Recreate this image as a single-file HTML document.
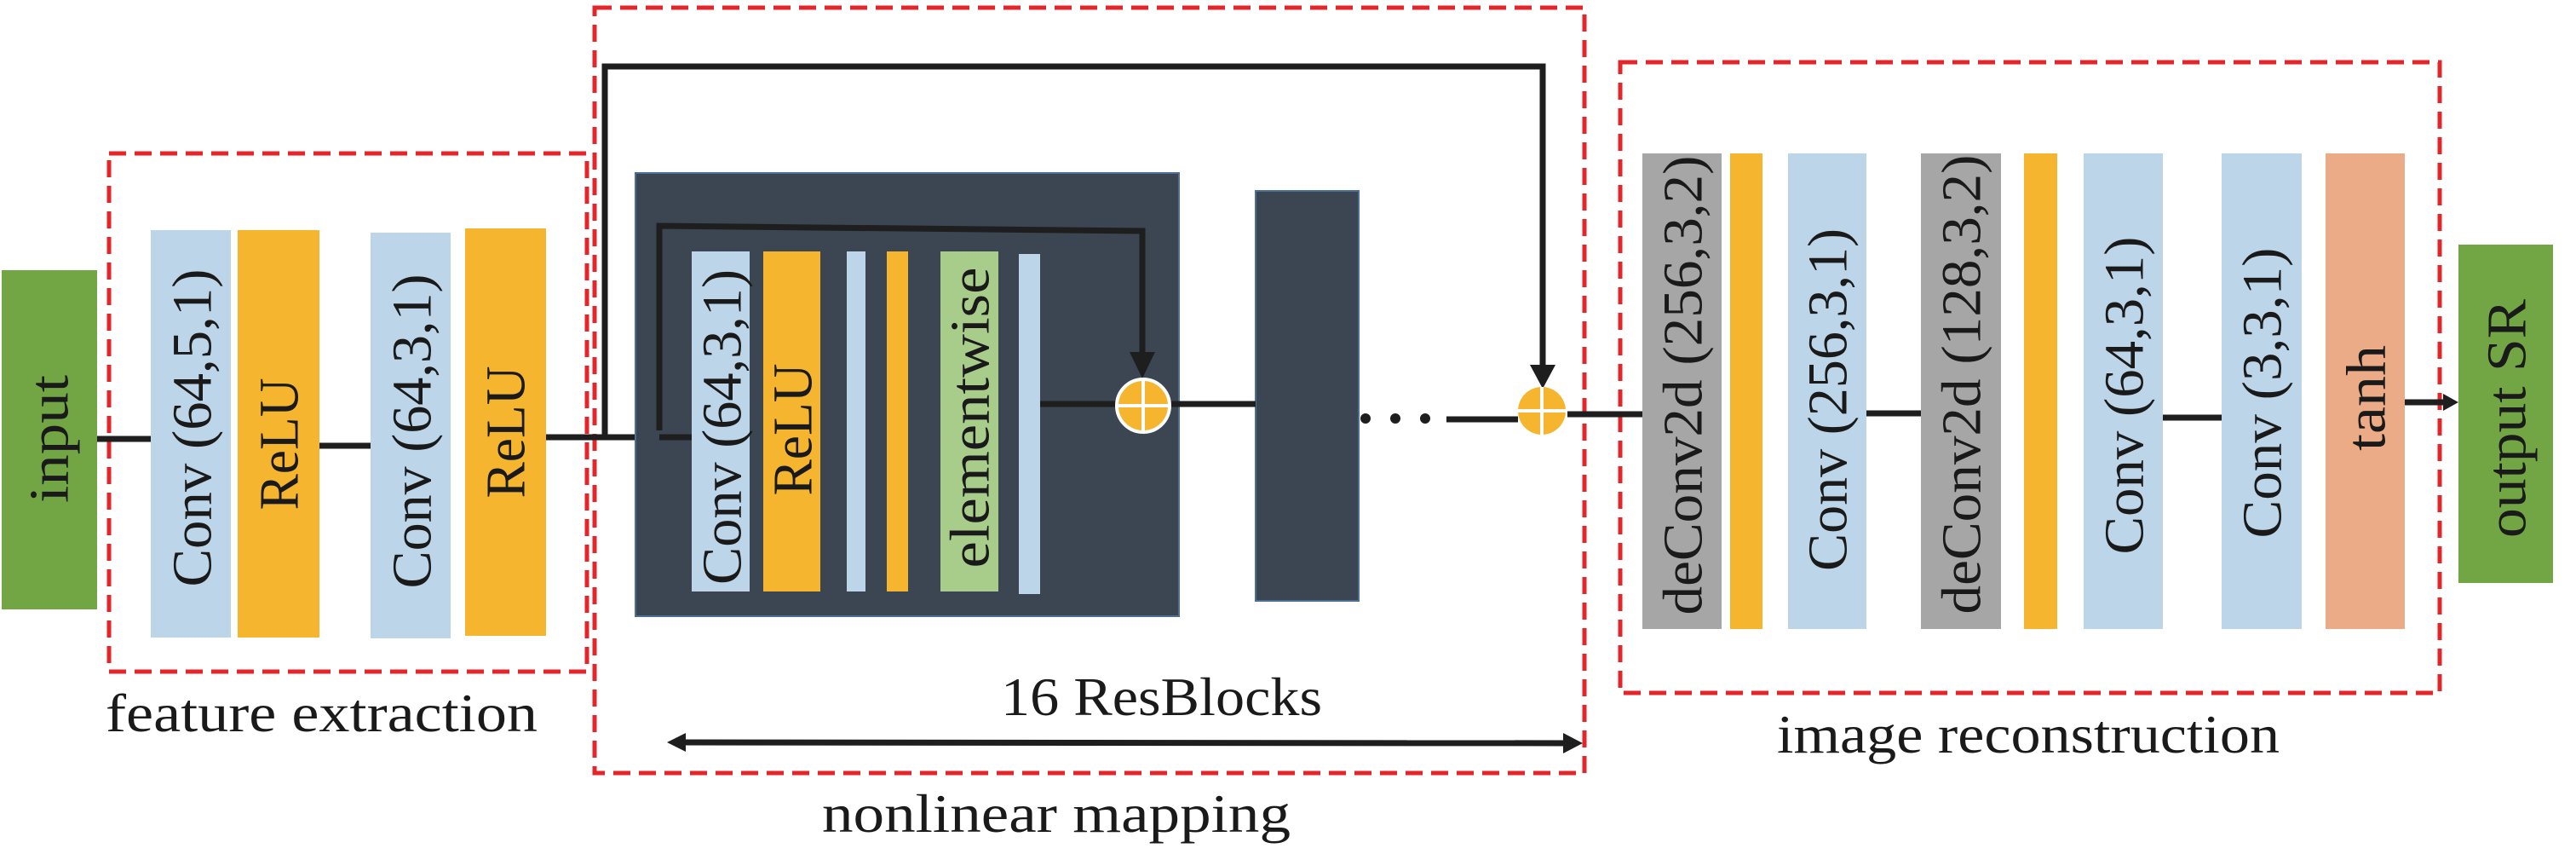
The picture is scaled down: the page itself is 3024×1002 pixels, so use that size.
<!DOCTYPE html>
<html><head><meta charset="utf-8"><style>
html,body{margin:0;padding:0;background:#fff;}
svg{display:block;}
text{font-family:"Liberation Serif",serif;fill:#1a1a1a;}
</style></head><body>
<svg width="3024" height="1002" viewBox="0 0 3024 1002" xmlns="http://www.w3.org/2000/svg">
<g fill="none" stroke="#e4262a" stroke-width="5" stroke-dasharray="20,10">
<rect x="128" y="180" width="561" height="608"/>
<rect x="698" y="9" width="1162" height="898"/>
<rect x="1902" y="73" width="962" height="740"/>
</g>
<rect x="2" y="317" width="112" height="398" fill="#72a644"/>
<rect x="177" y="270" width="94" height="478" fill="#bcd5e8"/>
<rect x="279" y="270" width="96" height="478" fill="#f5b52e"/>
<rect x="435" y="273" width="94" height="476" fill="#bcd5e8"/>
<rect x="546" y="268" width="95" height="478" fill="#f5b52e"/>
<g stroke="#1e1e1e" stroke-width="7" fill="none">
<line x1="114" y1="515" x2="177" y2="515"/>
<line x1="375" y1="523" x2="435" y2="523"/>
<line x1="641" y1="513" x2="799" y2="513"/>
<polyline points="710,513 710,78 1811,78 1811,430"/>
</g>
<rect x="746" y="203" width="638" height="520" fill="#3b4652" stroke="#4d6f93" stroke-width="2"/>
<rect x="1474" y="224" width="121" height="481" fill="#3b4652" stroke="#4d6f93" stroke-width="2"/>
<rect x="812" y="295" width="68" height="399" fill="#bcd5e8"/>
<rect x="896" y="295" width="67" height="399" fill="#f5b52e"/>
<rect x="994" y="295" width="22" height="399" fill="#bcd5e8"/>
<rect x="1041" y="295" width="25" height="399" fill="#f5b52e"/>
<rect x="1104" y="295" width="68" height="399" fill="#a8cd8a"/>
<rect x="1196" y="298" width="25" height="399" fill="#bcd5e8"/>
<g stroke="#1e1e1e" stroke-width="7" fill="none">
<polyline points="774,505 774,265 1341,271 1341,415"/>
<line x1="774" y1="513" x2="812" y2="513"/>
<line x1="1221" y1="474" x2="1311" y2="474"/>
<line x1="1372" y1="474" x2="1474" y2="474"/>
<line x1="1698" y1="492" x2="1782" y2="492"/>
<line x1="1840" y1="486" x2="1928" y2="486"/>
<line x1="2191" y1="485" x2="2255" y2="485"/>
<line x1="2539" y1="490" x2="2608" y2="490"/>
<line x1="2823" y1="472" x2="2870" y2="472"/>
<line x1="790" y1="871" x2="1848" y2="872"/>
</g>
<g fill="#1e1e1e">
<polygon points="1326,413 1356,413 1341,444"/>
<polygon points="1796,428 1826,428 1811,456"/>
<polygon points="2868,462 2868,482 2886,472"/>
<polygon points="783,871 805,860 805,882"/>
<polygon points="1858,872 1835,860 1835,884"/>
<circle cx="1603" cy="491" r="6"/>
<circle cx="1638" cy="491" r="6"/>
<circle cx="1673" cy="491" r="6"/>
</g>
<g>
<circle cx="1342" cy="476" r="31" fill="#f5b52e" stroke="#fff" stroke-width="4"/>
<line x1="1342" y1="447" x2="1342" y2="505" stroke="#fff" stroke-width="4"/>
<line x1="1313" y1="476" x2="1371" y2="476" stroke="#fff" stroke-width="4"/>
<circle cx="1810" cy="482" r="28" fill="#f5b52e"/>
<line x1="1810" y1="454" x2="1810" y2="510" stroke="#fff" stroke-width="4"/>
<line x1="1782" y1="482" x2="1838" y2="482" stroke="#fff" stroke-width="4"/>
</g>
<rect x="1928" y="180" width="93" height="558" fill="#a6a6a6"/>
<rect x="2031" y="180" width="38" height="558" fill="#f5b52e"/>
<rect x="2099" y="180" width="92" height="558" fill="#bcd5e8"/>
<rect x="2255" y="180" width="94" height="558" fill="#a6a6a6"/>
<rect x="2376" y="180" width="39" height="558" fill="#f5b52e"/>
<rect x="2446" y="180" width="93" height="558" fill="#bcd5e8"/>
<rect x="2608" y="180" width="94" height="558" fill="#bcd5e8"/>
<rect x="2730" y="180" width="93" height="558" fill="#ecab87"/>
<rect x="2886" y="287" width="111" height="397" fill="#72a644"/>
<g font-size="66" text-anchor="middle" dominant-baseline="central">
<text transform="translate(58,515) rotate(-90)" textLength="150" lengthAdjust="spacingAndGlyphs">input</text>
<text transform="translate(226,502) rotate(-90)" textLength="373" lengthAdjust="spacingAndGlyphs">Conv (64,5,1)</text>
<text transform="translate(328,521) rotate(-90)" textLength="155" lengthAdjust="spacingAndGlyphs">ReLU</text>
<text transform="translate(484,506) rotate(-90)" textLength="369" lengthAdjust="spacingAndGlyphs">Conv (64,3,1)</text>
<text transform="translate(594,507) rotate(-90)" textLength="155" lengthAdjust="spacingAndGlyphs">ReLU</text>
<text transform="translate(848,501) rotate(-90)" textLength="370" lengthAdjust="spacingAndGlyphs">Conv (64,3,1)</text>
<text transform="translate(931,504) rotate(-90)" textLength="155" lengthAdjust="spacingAndGlyphs">ReLU</text>
<text transform="translate(1139,490) rotate(-90)" textLength="353" lengthAdjust="spacingAndGlyphs">elementwise</text>
<text transform="translate(1976,452) rotate(-90)" textLength="539" lengthAdjust="spacingAndGlyphs">deConv2d (256,3,2)</text>
<text transform="translate(2146,469) rotate(-90)" textLength="402" lengthAdjust="spacingAndGlyphs">Conv (256,3,1)</text>
<text transform="translate(2303,451) rotate(-90)" textLength="539" lengthAdjust="spacingAndGlyphs">deConv2d (128,3,2)</text>
<text transform="translate(2494,464) rotate(-90)" textLength="373" lengthAdjust="spacingAndGlyphs">Conv (64,3,1)</text>
<text transform="translate(2656,461) rotate(-90)" textLength="341" lengthAdjust="spacingAndGlyphs">Conv (3,3,1)</text>
<text transform="translate(2778,467) rotate(-90)" textLength="124" lengthAdjust="spacingAndGlyphs">tanh</text>
<text transform="translate(2943,491) rotate(-90)" textLength="280" lengthAdjust="spacingAndGlyphs">output SR</text>
</g>
<g font-size="64">
<text x="124" y="858" textLength="507" lengthAdjust="spacingAndGlyphs">feature extraction</text>
<text x="1175" y="839" textLength="377" lengthAdjust="spacingAndGlyphs">16 ResBlocks</text>
<text x="965" y="976" textLength="550" lengthAdjust="spacingAndGlyphs">nonlinear mapping</text>
<text x="2086" y="883" textLength="590" lengthAdjust="spacingAndGlyphs">image reconstruction</text>
</g>
</svg>
</body></html>
